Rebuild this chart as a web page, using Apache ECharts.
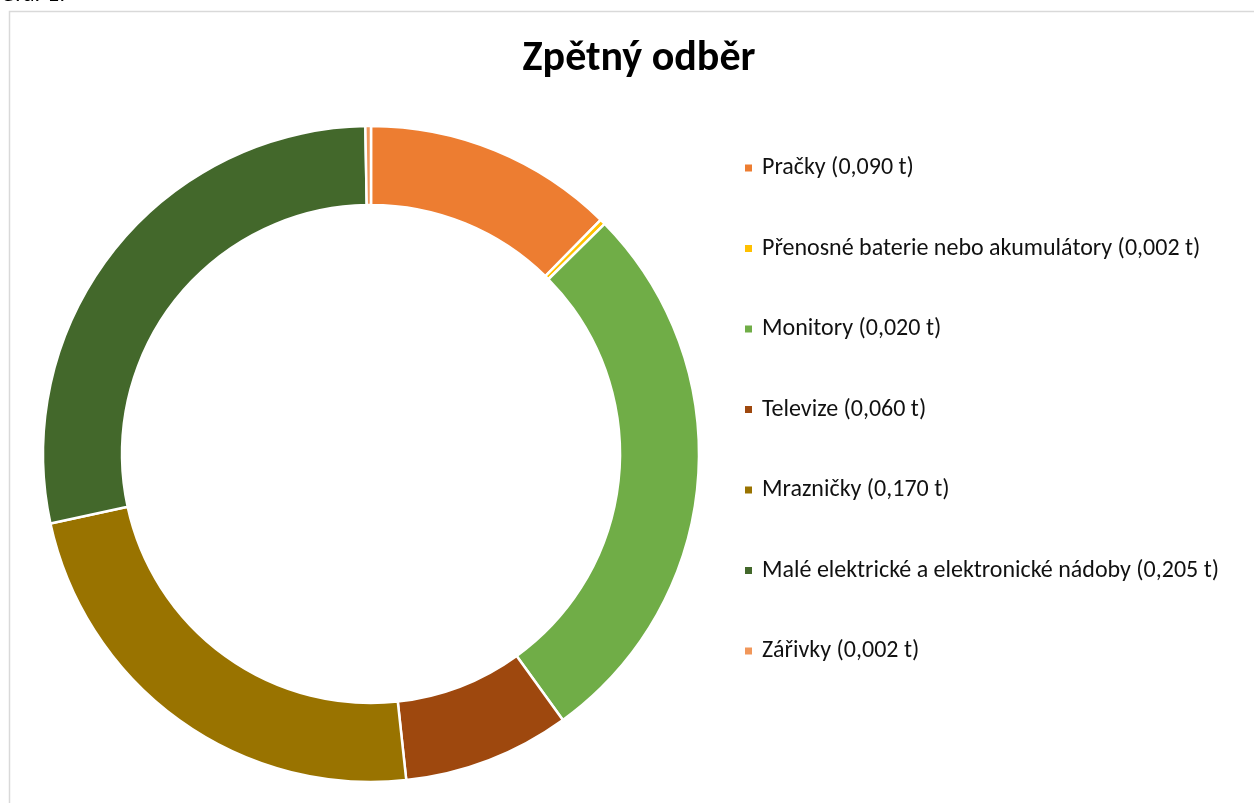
<!DOCTYPE html>
<html>
<head>
<meta charset="utf-8">
<script src="https://cdn.jsdelivr.net/npm/echarts@6/dist/echarts.min.js"></script>
<style>
  html, body { margin: 0; padding: 0; background: #fff; }
  #main { width: 1254px; height: 803px; }
</style>
</head>
<body>
<div id="main"></div>
<script>
var chartDom = document.getElementById('main');
var myChart = echarts.init(chartDom);
var option;

// legend labels as printed in the chart
var categories = [
  'Pračky (0,090 t)',
  'Přenosné baterie nebo akumulátory (0,002 t)',
  'Monitory (0,020 t)',
  'Televize (0,060 t)',
  'Mrazničky (0,170 t)',
  'Malé elektrické a elektronické nádoby (0,205 t)',
  'Zářivky (0,002 t)'
];
// slice sizes (t)
var values = [0.09, 0.002, 0.2, 0.06, 0.17, 0.205, 0.002];
var colors = ['#ED7D31', '#FFC000', '#70AD47', '#9E480E', '#997300', '#43682B', '#F1975A'];

var font = 'Carlito, Lato, "Open Sans", sans-serif';

option = {
  animation: false,
  backgroundColor: '#fff',
  color: colors,
  title: {
    text: 'Zpětný odběr',
    left: 634,
    top: 33,
    textAlign: 'center',
    textStyle: {
      fontFamily: font,
      fontSize: 42,
      fontWeight: 'bold',
      color: '#000'
    }
  },
  graphic: [
    {
      type: 'rect',
      shape: { x: 9.5, y: 11.5, width: 1260, height: 820 },
      style: { fill: null, stroke: '#d9d9d9', lineWidth: 1.5 },
      silent: true
    },
    {
      type: 'text',
      style: {
        x: 0,
        y: 7,
        text: 'Graf 1.',
        verticalAlign: 'bottom',
        font: '24px ' + font,
        fill: '#000'
      },
      silent: true
    }
  ],
  legend: {
    orient: 'vertical',
    left: 743,
    top: 156,
    padding: 0,
    itemGap: 56.5,
    itemWidth: 9,
    itemHeight: 9,
    icon: 'rect',
    textStyle: {
      fontFamily: font,
      fontSize: 24,
      color: '#111',
      padding: [0, 0, 0, 4]
    },
    data: categories
  },
  series: [
    {
      type: 'pie',
      center: [371, 454],
      radius: [249, 328],
      startAngle: 90,
      clockwise: true,
      label: { show: false },
      labelLine: { show: false },
      itemStyle: { borderColor: '#fff', borderWidth: 2.5 },
      data: categories.map(function (name, i) {
        return { name: name, value: values[i] };
      })
    }
  ]
};

option && myChart.setOption(option);
</script>
</body>
</html>
